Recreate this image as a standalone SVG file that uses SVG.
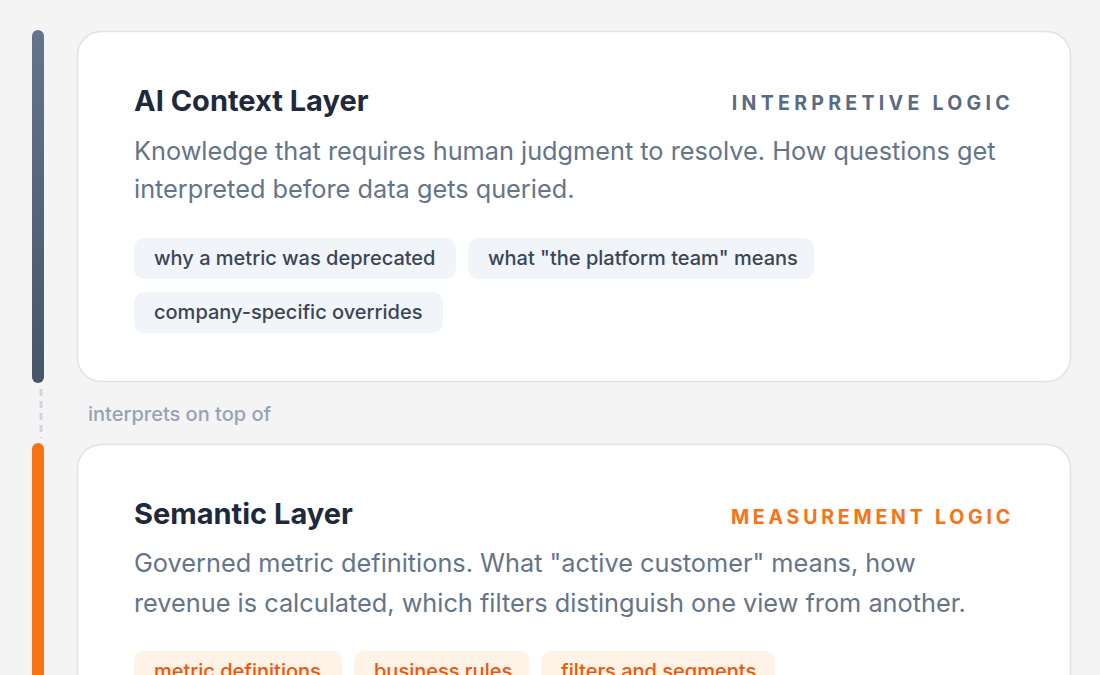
<svg xmlns="http://www.w3.org/2000/svg" width="1100" height="675" viewBox="0 0 1100 675">
<defs>
<linearGradient id="gSlate" x1="0" y1="0" x2="0" y2="1">
<stop offset="0" stop-color="#64748b"/>
<stop offset="1" stop-color="#475569"/>
</linearGradient>
<style>
.card{fill:#ffffff;stroke:#e4e2d9;stroke-width:1.5}
.title{font-family:Inter,"Liberation Sans",sans-serif;font-weight:700;font-size:29px;fill:#1e293b}
.kicker{font-family:Inter,"Liberation Sans",sans-serif;font-weight:700;font-size:19.5px;letter-spacing:4.3px}
.desc{font-family:Inter,"Liberation Sans",sans-serif;font-size:25.3px;fill:#64748b}
.tag{font-family:Inter,"Liberation Sans",sans-serif;font-size:20px;font-weight:500}
.tagS{fill:#f1f4f9}
.tagO{fill:#fff3e8}
.link{font-family:Inter,"Liberation Sans",sans-serif;font-size:20px;font-weight:500;fill:#94a3b8}
</style>
</defs>
<rect width="1100" height="675" fill="#f4f4f4"/>
<g id="connectors">
<rect x="32" y="30" width="12" height="353" rx="6" fill="url(#gSlate)"/>
<line x1="41" y1="389" x2="41" y2="438" stroke="#cbd5e1" stroke-width="3" stroke-dasharray="7 5"/>
<rect x="32" y="443" width="12" height="260" rx="6" fill="#f97316"/>
<text class="link" x="88" y="421">interprets on top of</text>
</g>
<g id="ai-context-layer">
<rect class="card" x="77.5" y="31.5" width="993" height="350" rx="24"/>
<text class="title" x="134" y="111">AI Context Layer</text>
<text class="kicker" x="1014" y="110" text-anchor="end" fill="#5a6a85">INTERPRETIVE LOGIC</text>
<text class="desc" x="134" y="160">Knowledge that requires human judgment to resolve. How questions get</text>
<text class="desc" x="134" y="198">interpreted before data gets queried.</text>
<rect class="tagS" x="134" y="238" width="322" height="41" rx="10"/>
<text class="tag" x="154" y="265" fill="#3a4556">why a metric was deprecated</text>
<rect class="tagS" x="468" y="238" width="346" height="41" rx="10"/>
<text class="tag" x="488" y="265" fill="#3a4556">what "the platform team" means</text>
<rect class="tagS" x="134" y="292" width="309" height="41" rx="10"/>
<text class="tag" x="154" y="319" fill="#3a4556">company-specific overrides</text>
</g>
<g id="semantic-layer">
<rect class="card" x="77.5" y="444.5" width="993" height="300" rx="24"/>
<text class="title" x="134" y="524">Semantic Layer</text>
<text class="kicker" x="1014" y="524" text-anchor="end" fill="#f97316" style="letter-spacing:3.8px">MEASUREMENT LOGIC</text>
<text class="desc" x="134" y="572">Governed metric definitions. What "active customer" means, how</text>
<text class="desc" x="134" y="612">revenue is calculated, which filters distinguish one view from another.</text>
<rect class="tagO" x="134" y="651" width="208" height="41" rx="10"/>
<text class="tag" x="154" y="678" fill="#ea580c">metric definitions</text>
<rect class="tagO" x="354" y="651" width="175" height="41" rx="10"/>
<text class="tag" x="374" y="678" fill="#ea580c">business rules</text>
<rect class="tagO" x="541" y="651" width="234" height="41" rx="10"/>
<text class="tag" x="561" y="678" fill="#ea580c">filters and segments</text>
</g>
</svg>
